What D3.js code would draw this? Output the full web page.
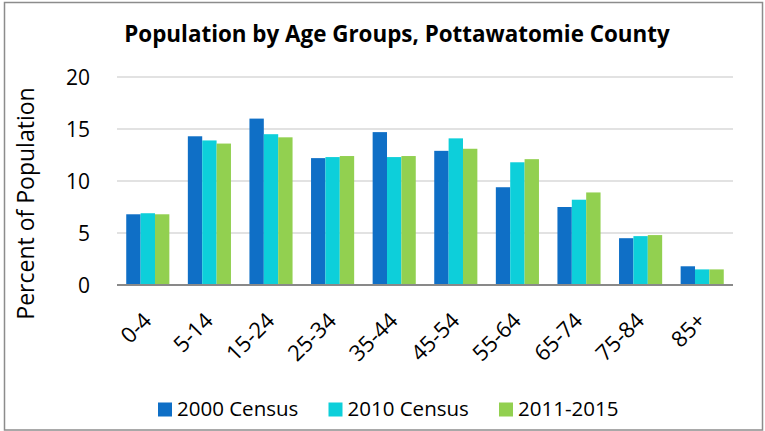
<!DOCTYPE html>
<html>
<head>
<meta charset="utf-8">
<script src="https://cdn.jsdelivr.net/npm/d3@7"></script>
<style>
  body { margin: 0; background: #fff; }
  text { font-family: "Open Sans", sans-serif; fill: #000; }
</style>
</head>
<body>
<div id="chart"></div>
<script>
"use strict";

// == DATA ==
var ageGroups = ["0-4", "5-14", "15-24", "25-34", "35-44", "45-54", "55-64", "65-74", "75-84", "85+"];
var seriesNames = ["2000 Census", "2010 Census", "2011-2015"];
var census2000 = [6.8, 14.3, 16.0, 12.2, 14.7, 12.9, 9.4, 7.5, 4.5, 1.8];
var census2010 = [6.9, 13.9, 14.5, 12.3, 12.3, 14.1, 11.8, 8.2, 4.7, 1.5];
var acs2011_2015 = [6.8, 13.6, 14.2, 12.4, 12.4, 13.1, 12.1, 8.9, 4.8, 1.5];
var yTicks = [0, 5, 10, 15, 20];
var colors = ["#0F6FC6", "#0DCFDA", "#92D050"];

var seriesValues = [census2000, census2010, acs2011_2015];

// == BOILERPLATE ==
var width = 765, height = 431;
var margin = { top: 77, right: 32, bottom: 146, left: 117 };

var svg = d3.select("#chart")
            .append("svg")
            .attr("width", width)
            .attr("height", height);

// chart border
svg.append("rect")
   .attr("x", 4.5)
   .attr("y", 2.5)
   .attr("width", 758)
   .attr("height", 427.5)
   .attr("fill", "#fff")
   .attr("stroke", "#8c8c8c")
   .attr("stroke-width", 1.5);

// title
svg.append("text")
   .attr("x", 397)
   .attr("y", 42)
   .attr("text-anchor", "middle")
   .style("font-size", "22.4px")
   .style("font-weight", "bold")
   .text("Population by Age Groups, Pottawatomie County");

var x = d3.scaleBand()
          .domain(ageGroups)
          .range([margin.left, width - margin.right])
          .paddingInner(0.3)
          .paddingOuter(0.15);

var xInner = d3.scaleBand()
               .domain(seriesNames)
               .range([0, x.bandwidth()]);

var y = d3.scaleLinear()
          .domain([0, 20])
          .range([height - margin.bottom, margin.top]);

// gridlines
svg.append("g")
   .selectAll("line")
   .data(yTicks.filter(function (d) { return d > 0; }))
   .enter()
   .append("line")
   .attr("x1", margin.left)
   .attr("x2", width - margin.right)
   .attr("y1", function (d) { return y(d); })
   .attr("y2", function (d) { return y(d); })
   .attr("stroke", "#d9d9d9")
   .attr("stroke-width", 1.5);

// y axis labels
var yAxis = d3.axisLeft(y).tickValues(yTicks).tickSize(0).tickPadding(27);
var yg = svg.append("g")
   .attr("transform", "translate(" + margin.left + ",0)")
   .call(yAxis);
yg.select(".domain").remove();
yg.selectAll("text")
  .style("font-size", "21px")
  .attr("dy", "0.34em");

// bars, one group per age group
var rows = ageGroups.map(function (g, i) {
  return seriesNames.map(function (s, j) {
    return { group: g, series: s, value: seriesValues[j][i], color: colors[j] };
  });
});

var groups = svg.selectAll("g.age")
                .data(rows)
                .enter()
                .append("g")
                .attr("class", "age")
                .attr("transform", function (d) { return "translate(" + x(d[0].group) + ",0)"; });

groups.selectAll("rect")
      .data(function (d) { return d; })
      .enter()
      .append("rect")
      .attr("x", function (d) { return xInner(d.series); })
      .attr("width", xInner.bandwidth())
      .attr("y", function (d) { return y(d.value); })
      .attr("height", function (d) { return y(0) - y(d.value); })
      .attr("fill", function (d) { return d.color; });

// x axis line
svg.append("line")
   .attr("x1", margin.left)
   .attr("x2", width - margin.right)
   .attr("y1", y(0))
   .attr("y2", y(0))
   .attr("stroke", "#898989")
   .attr("stroke-width", 2);

// x labels, rotated
svg.append("g")
   .selectAll("text")
   .data(ageGroups)
   .enter()
   .append("text")
   .attr("transform", function (d) {
     return "translate(" + (x(d) + x.bandwidth() / 2 + 5) + "," + 322 + ") rotate(-45)";
   })
   .attr("text-anchor", "end")
   .style("font-size", "22px")
   .text(function (d) { return d; });

// y axis title
svg.append("text")
   .attr("transform", "translate(34," + 203.5 + ") rotate(-90)")
   .attr("text-anchor", "middle")
   .style("font-size", "23px")
   .text("Percent of Population");

// legend
var legend = svg.selectAll("g.legend")
                .data(seriesNames)
                .enter()
                .append("g")
                .attr("class", "legend")
                .attr("transform", function (d, i) { return "translate(" + (158 + i * 170.5) + ",402.5)"; });

legend.append("rect")
      .attr("width", 14)
      .attr("height", 14)
      .attr("fill", function (d, i) { return colors[i]; });

legend.append("text")
      .attr("x", 19)
      .attr("y", 13.5)
      .style("font-size", "20.5px")
      .text(function (d) { return d; });
</script>
</body>
</html>
